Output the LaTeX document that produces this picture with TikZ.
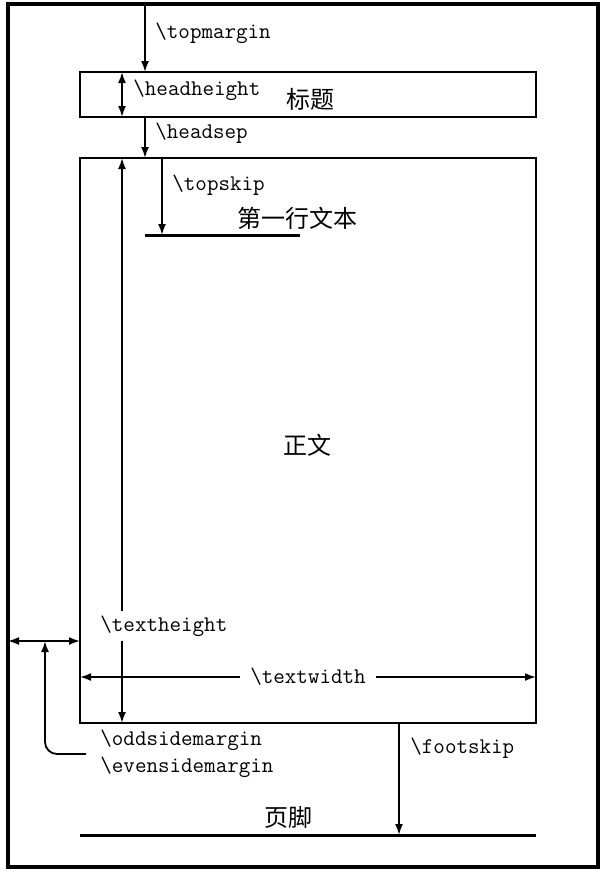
\documentclass[tikz,border=0pt]{standalone}
\usepackage{fontspec}
\newfontfamily\cjk{Noto Sans CJK SC}
\usetikzlibrary{arrows.meta}
\begin{document}
\begin{tikzpicture}[x=0.5pt,y=-0.5pt,
  tip/.tip={Latex[length=5.5pt,width=4pt]},
  arr/.style={line width=0.9pt,-tip},
  darr/.style={line width=0.9pt,tip-tip},
  lbl/.style={font=\fontsize{11.2}{13}\selectfont\ttfamily,inner sep=2pt,anchor=west},
  cjklbl/.style={font=\fontsize{12}{14}\selectfont\cjk,inner sep=0pt},
  frame/.style={line width=1.6pt},
  box/.style={line width=1.2pt},
  bar/.style={line width=1.5pt}]
\useasboundingbox (0,0) rectangle (615,878);
% page frame
\draw[frame] (8,4) rectangle (598,867);
% header box and body box
\draw[box] (80,72) coordinate (headNW) rectangle (536,117) coordinate (headSE);
\draw[box] (80,158) coordinate (bodyNW) rectangle (536,723) coordinate (bodySE);
% named points
\coordinate (tmTop) at (145,4);
\coordinate (tmBot) at (145,72);
\coordinate (hhTop) at (122,72);
\coordinate (hhBot) at (122,117);
\coordinate (hsTop) at (145,117);
\coordinate (hsBot) at (145,158);
\coordinate (tsTop) at (162,158);
\coordinate (tsBot) at (162,235);
\coordinate (flL) at (145,235);
\coordinate (flR) at (300,235);
\coordinate (thTop) at (122,158);
\coordinate (thBot) at (122,723);
\coordinate (twL) at (80,677);
\coordinate (twR) at (536,677);
\coordinate (mL) at (8,641);
\coordinate (mR) at (80,641);
\coordinate (mUp) at (45,641);
\coordinate (mCorner) at (45,754);
\coordinate (mEnd) at (86,754);
\coordinate (fsTop) at (399,723);
\coordinate (fsBot) at (399,835);
\coordinate (ftL) at (80,835);
\coordinate (ftR) at (536,835);
% labels
\node[lbl] (tm) at (151,33) {\textbackslash topmargin};
\node[lbl] (hh) at (129,90) {\textbackslash headheight};
\node[cjklbl] (head) at (310,99) {标题};
\node[lbl] (hs) at (151,133) {\textbackslash headsep};
\node[lbl] (ts) at (168,185) {\textbackslash topskip};
\node[cjklbl] (first) at (297,218) {第一行文本};
\node[cjklbl] (body) at (307,445) {正文};
\node[lbl] (th) at (96,626) {\textbackslash textheight};
\node[lbl,anchor=center,inner sep=5pt] (tw) at (308,677) {\textbackslash textwidth};
\node[lbl] (osm) at (96,740) {\textbackslash oddsidemargin};
\node[lbl] (esm) at (96,767) {\textbackslash evensidemargin};
\node[lbl] (fs) at (406,748) {\textbackslash footskip};
\node[cjklbl] (foot) at (288,817) {页脚};
% connectors
\draw[arr] (tmTop) -- (tmBot);
\draw[darr] (hhTop) -- (hhBot);
\draw[arr] (hsTop) -- (hsBot);
\draw[arr] (tsTop) -- (tsBot);
\draw[bar] (flL) -- (flR);
\draw[arr] (thTop |- th.north) -- (thTop);
\draw[arr] (thBot |- th.south) -- (thBot);
\draw[arr] (tw.west) -- (twL);
\draw[arr] (tw.east) -- (twR);
\draw[darr] (mL) -- (mR);
\draw[arr,rounded corners=6pt] (mEnd) -- (mCorner) -- (mUp);
\draw[arr] (fsTop) -- (fsBot);
\draw[bar] (ftL) -- (ftR);
\end{tikzpicture}
\end{document}
